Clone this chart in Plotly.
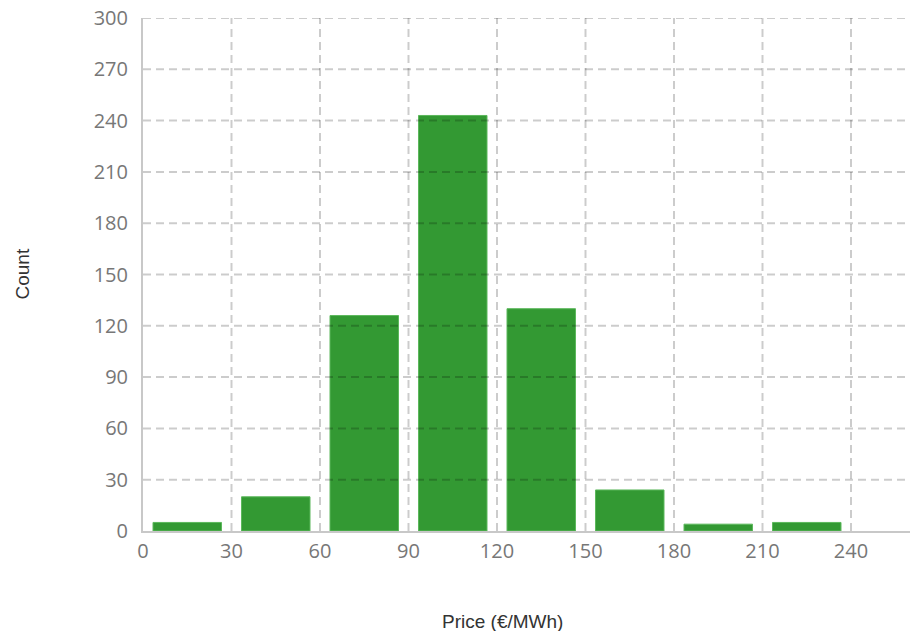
import plotly.graph_objects as go

bin_edges = [0, 30, 60, 90, 120, 150, 180, 210, 240]
counts = [5, 20, 126, 243, 130, 24, 4, 5]
x_ticks = [0, 30, 60, 90, 120, 150, 180, 210, 240]
y_ticks = [0, 30, 60, 90, 120, 150, 180, 210, 240, 270, 300]
x_title = "Price (€/MWh)"
y_title = "Count"

centers = [(a + b) / 2 for a, b in zip(bin_edges[:-1], bin_edges[1:])]

fig = go.Figure()
fig.add_trace(go.Bar(
    x=centers, y=counts,
    marker=dict(color="#339933", line=dict(color="#5cb85c", width=1)),
    hoverinfo="x+y",
))

grid = dict(color="rgba(0,0,0,0.2)", width=2, dash="8px,5px")
shapes = []
for t in x_ticks[1:]:
    shapes.append(dict(type="line", xref="x", yref="paper", x0=t, x1=t, y0=0, y1=1,
                       line=grid, layer="above"))
for t in y_ticks[1:]:
    shapes.append(dict(type="line", xref="paper", yref="y", x0=0, x1=1, y0=t, y1=t,
                       line=grid, layer="above"))

tick_font = dict(family="Open Sans", size=20, color="#777777")
title_font = dict(family="Liberation Sans", size=19, color="#333333")

fig.update_layout(
    width=911, height=631,
    margin=dict(l=143, r=1, t=18, b=100),
    paper_bgcolor="white", plot_bgcolor="white",
    bargap=0.226,
    showlegend=False,
    shapes=shapes,
    xaxis=dict(range=[0, 260], tickvals=x_ticks, showgrid=False, zeroline=False,
               showline=True, linecolor="#c8c8c8", linewidth=2,
               tickfont=tick_font, ticks="", ticklabelstandoff=1,
               ticklabeloverflow="allow", automargin=False),
    yaxis=dict(range=[0, 300], tickvals=y_ticks, showgrid=False, zeroline=False,
               showline=True, linecolor="#c8c8c8", linewidth=2,
               tickfont=tick_font, ticks="", ticklabelstandoff=9,
               ticklabeloverflow="allow", automargin=False),
    annotations=[
        dict(text=x_title, xref="paper", yref="paper", x=0.469, y=0, yshift=-90,
             xanchor="center", yanchor="middle", showarrow=False, font=title_font),
        dict(text=y_title, xref="paper", yref="paper", x=0, xshift=-121, y=0.5,
             xanchor="center", yanchor="middle", showarrow=False, textangle=-90,
             font=title_font),
    ],
)

fig.write_html("out.html",
               config={"displayModeBar": False},
               post_script="document.body.style.margin='0';document.body.style.overflow='hidden';")
